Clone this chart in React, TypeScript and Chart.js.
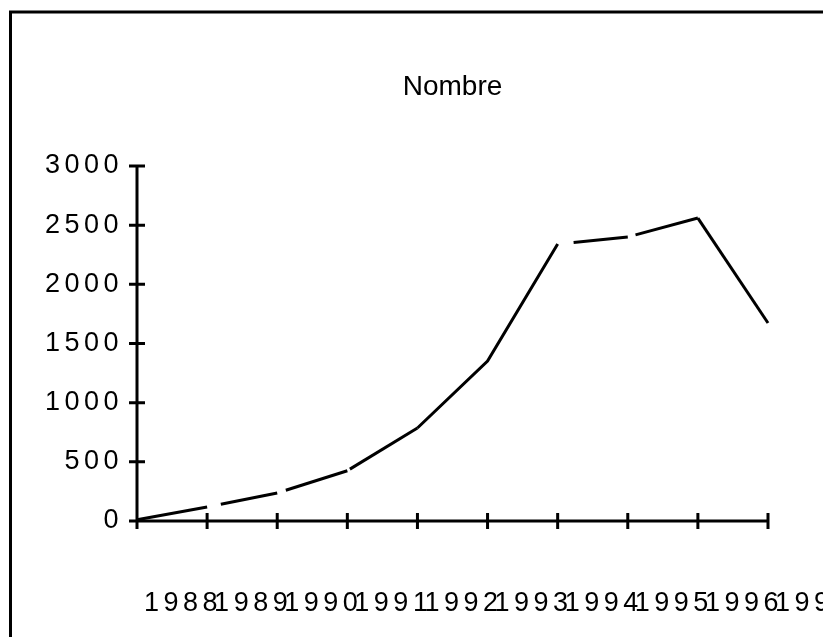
import React, { useEffect, useRef } from "react";
import { Chart, registerables } from "chart.js";

Chart.register(...registerables);

const YEARS = ["1988", "1989", "1990", "1991", "1992", "1993", "1994", "1995", "1996", "1997"];
const NOMBRE = [10, 118, 237, 425, 786, 1352, 2340, 2400, 2560, 1673];
const Y_TICKS = [0, 500, 1000, 1500, 2000, 2500, 3000];
const TITLE = "Nombre";

// gap (px) at the start of each line segment, as in the reference rendering
const SEGMENT_START_GAPS = [0, 14, 9, 3, 0, 0, 16, 8, 0];

const FONT_FAMILY = '"Liberation Sans", Arial, Helvetica, sans-serif';

const framePlugin = {
  id: "frame",
  beforeDraw(chart: any) {
    const ctx = chart.ctx;
    ctx.save();
    ctx.strokeStyle = "#000";
    ctx.lineWidth = 3;
    ctx.beginPath();
    ctx.moveTo(10.5, chart.height + 5);
    ctx.lineTo(10.5, 12);
    ctx.lineTo(chart.width + 5, 12);
    ctx.stroke();
    ctx.restore();
    ctx.letterSpacing = "4.5px";
  },
  beforeDatasetsDraw(chart: any) {
    const ctx = chart.ctx;
    const xs = chart.scales.x;
    const ys = chart.scales.y;
    const x0 = xs.getPixelForValue(0);
    const x1 = xs.getPixelForValue(YEARS.length - 1);
    const y0 = ys.getPixelForValue(0);
    const y1 = ys.getPixelForValue(Y_TICKS[Y_TICKS.length - 1]);
    const half = 8;
    ctx.save();
    ctx.strokeStyle = "#000";
    ctx.lineWidth = 3;
    ctx.lineCap = "butt";
    ctx.beginPath();
    ctx.moveTo(x0, y1);
    ctx.lineTo(x0, y0);
    ctx.moveTo(x0, y0);
    ctx.lineTo(x1, y0);
    for (const v of Y_TICKS) {
      const y = ys.getPixelForValue(v);
      ctx.moveTo(x0 - half, y);
      ctx.lineTo(x0 + half, y);
    }
    for (let i = 0; i < YEARS.length; i++) {
      const x = xs.getPixelForValue(i);
      ctx.moveTo(x, y0 - half);
      ctx.lineTo(x, y0 + half);
    }
    ctx.stroke();
    ctx.restore();
  },
  afterDraw(chart: any) {
    const ctx = chart.ctx;
    ctx.letterSpacing = "0px";
    const xs = chart.scales.x;
    const cx = (xs.left + xs.right) / 2;
    ctx.save();
    ctx.fillStyle = "#000";
    ctx.font = `28px ${FONT_FAMILY}`;
    ctx.textAlign = "center";
    ctx.textBaseline = "middle";
    ctx.fillText(TITLE, cx, 87);
    ctx.restore();
  },
};

export default function App() {
  const ref = useRef<HTMLCanvasElement | null>(null);
  useEffect(() => {
    if (!ref.current) return;
    const chart = new Chart(ref.current, {
      type: "line",
      data: {
        labels: YEARS,
        datasets: [
          {
            label: TITLE,
            data: NOMBRE,
            borderColor: "#000",
            borderWidth: 3,
            pointRadius: 0,
            fill: false,
            tension: 0,
            clip: false as any,
            segment: {
              borderDash: (c: any) => {
                const g = SEGMENT_START_GAPS[c.p0DataIndex] || 0;
                return g > 0 ? [0, g, 2000, 0] : undefined;
              },
            },
          },
        ],
      },
      options: {
        responsive: false,
        animation: false,
        layout: { padding: { top: 166, right: 55, bottom: 0, left: 0 } },
        plugins: {
          legend: { display: false },
          title: { display: false },
          tooltip: { enabled: false },
        },
        scales: {
          x: {
            type: "category",
            offset: false,
            grid: { display: false, drawTicks: false },
            border: { display: false },
            ticks: {
              autoSkip: false,
              maxRotation: 0,
              minRotation: 0,
              align: "start",
              labelOffset: 7,
              padding: 66,
              color: "#000",
              font: { family: FONT_FAMILY, size: 27 },
            },
            afterFit(scale: any) {
              scale.height = 116;
              scale.paddingLeft = 0;
              scale.paddingRight = 0;
            },
          },
          y: {
            min: 0,
            max: 3000,
            grid: { display: false, drawTicks: false },
            border: { display: false },
            afterBuildTicks(scale: any) {
              scale.ticks = Y_TICKS.map((v) => ({ value: v }));
            },
            ticks: {
              padding: 14,
              color: "#000",
              font: { family: FONT_FAMILY, size: 27 },
              callback: (v: any) => String(v),
            },
            afterFit(scale: any) {
              scale.width = 137;
              scale.paddingTop = 0;
              scale.paddingBottom = 0;
            },
          },
        },
      },
      plugins: [framePlugin],
    });
    return () => chart.destroy();
  }, []);
  return (
    <div style={{ position: "fixed", left: 0, top: 0, width: 823, height: 637, background: "#fff" }}>
      <canvas ref={ref} width={823} height={637} style={{ display: "block" }} />
    </div>
  );
}
